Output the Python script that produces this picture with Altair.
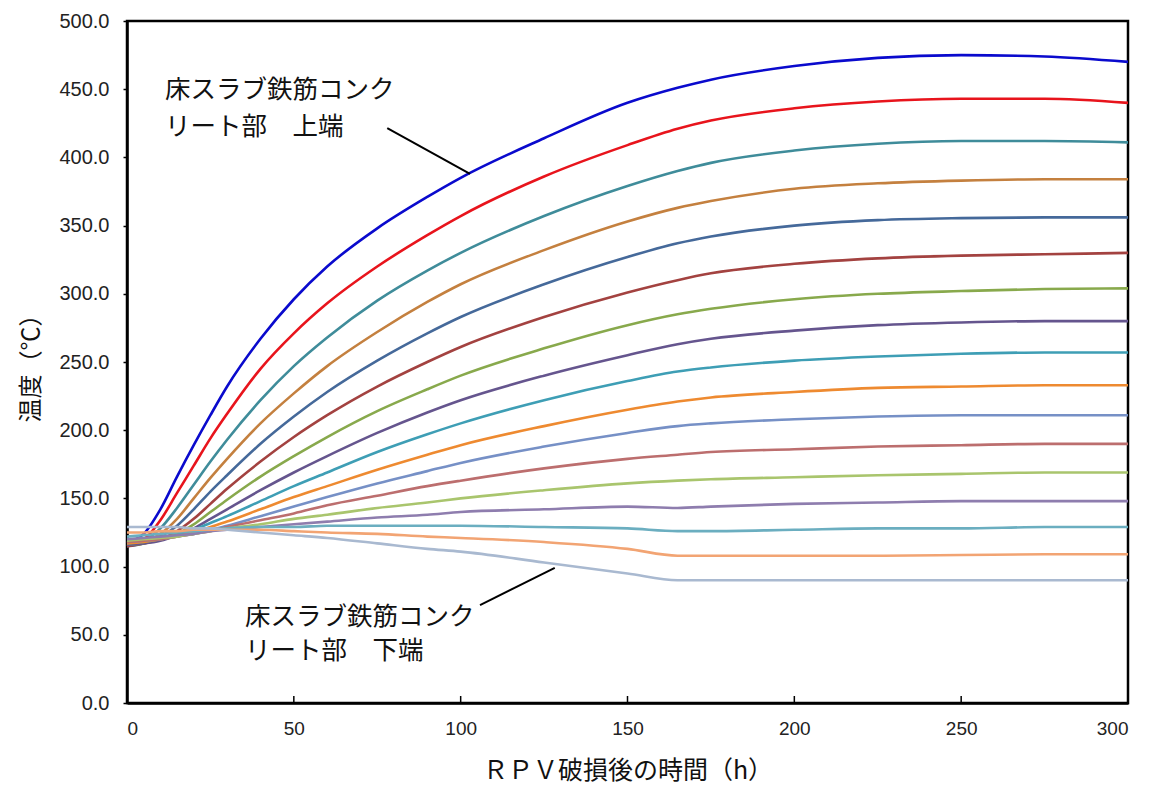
import altair as alt
import pandas as pd

# time axis (h)
T = [0, 5, 10, 15, 20, 25, 30, 40, 50, 60, 75, 90, 100, 125, 150, 165, 175, 200, 225, 250, 275, 300]

s01 = [118, 124, 142, 166, 189, 211, 232, 267, 296, 320, 348, 371, 385, 414, 440, 451, 457, 467, 473, 475, 474, 470]
s02 = [117, 120, 134, 154, 174, 194, 212, 245, 271, 293, 320, 343, 357, 386, 409, 421, 427, 436, 441, 443, 443, 440]
s03 = [116, 119, 128, 143, 160, 177, 193, 222, 247, 268, 295, 317, 330, 357, 379, 390, 396, 405, 410, 412, 412, 411]
s04 = [115, 118, 124, 135, 150, 165, 179, 205, 227, 247, 272, 294, 307, 332, 353, 363, 368, 377, 381, 383, 384, 384]
s05 = [115, 117, 122, 130, 142, 155, 167, 190, 210, 228, 251, 271, 283, 307, 327, 337, 342, 350, 354, 355.5, 356, 356]
s06 = [115, 117, 120, 126, 135, 146, 157, 177, 195, 211, 232, 250, 261, 283, 301, 310, 315, 322, 326, 328, 329, 330]
s07 = [116, 117, 120, 124, 131, 140, 149, 166, 181, 195, 214, 230, 240, 260, 277, 285, 289, 296, 300, 302, 303.5, 304]
s08 = [116, 117, 119, 123, 128, 135, 142, 156, 169, 181, 198, 213, 222, 240, 255, 263, 267, 273, 277, 279, 280, 280]
s09 = [117, 118, 120, 123, 127, 132, 137, 148, 159, 169, 184, 197, 205, 222, 236, 243, 246, 251, 254, 256, 257, 257]
s10 = [117, 118, 120, 122, 125, 129, 133, 142, 151, 159, 171, 182, 189, 203, 215, 221, 224, 228, 231, 232, 233, 233]
s11 = [118, 119, 120, 122, 124, 127, 130, 137, 144, 151, 161, 170, 176, 188, 198, 203, 205, 208, 210, 211, 211, 211]
s12 = [118, 119, 120, 122, 124, 126, 129, 134, 139, 145, 152, 159, 163, 172, 179, 182, 184, 186, 188, 189, 190, 190]
s13 = [119, 120, 121, 122, 124, 126, 128, 131, 135, 138, 143, 147, 150, 156, 161, 163, 164, 165.5, 167, 168, 169, 169]
s14 = [120, 121, 122, 123, 124, 126, 127, 129, 131, 133, 136, 138, 140, 142, 144, 143, 144, 146, 147, 148, 148, 148]
s15 = [122, 123, 124, 125, 126, 127, 128, 129, 129, 130, 130, 130, 130, 129, 128, 126, 126, 127, 128, 128, 129, 129]
s16 = [125, 125, 126, 126, 127, 127, 127, 127, 126, 125, 124, 122, 121, 118, 113, 108, 108, 108, 108, 108.5, 109, 109]
s17 = [129, 129, 129, 129, 128, 128, 127, 125, 123, 121, 117, 113, 111, 103, 95, 90, 90, 90, 90, 90, 90, 90]

series_values = [s01, s02, s03, s04, s05, s06, s07, s08, s09, s10, s11, s12, s13, s14, s15, s16, s17]
series_names = ["%02d" % (i + 1) for i in range(len(series_values))]
series_colors = ["#0A0ACD", "#E8141C", "#3F8C9A", "#C4803F", "#45699A", "#A34240",
                 "#88A94C", "#65558E", "#3E9EB5", "#EE8A30", "#7690C6", "#BC6E6E",
                 "#A9C56D", "#8E7DAE", "#6BAEC0", "#F2A473", "#A9B9D0"]

x_ticks = [0, 50, 100, 150, 200, 250, 300]
y_ticks = [0, 50, 100, 150, 200, 250, 300, 350, 400, 450, 500]

# annotations (data coordinates)
ann_text = ["床スラブ鉄筋コンク", "リート部　上端", "床スラブ鉄筋コンク", "リート部　下端"]
ann_x = [11.4, 11.4, 35.4, 35.4]
ann_y = [449.5, 422.3, 63.0, 38.0]
lead_x = [78.0, 105.8]
lead_y = [421.5, 71.8]
lead_x2 = [102.8, 128.2]
lead_y2 = [388.0, 99.0]

rows = []
for name, vals in zip(series_names, series_values):
    for t, v in zip(T, vals):
        rows.append({"t": t, "v": v, "s": name})
df = pd.DataFrame(rows)

W, H = 1001, 682
FONT = "Liberation Sans"
JP = "Noto Sans CJK JP"

xscale = alt.Scale(domain=[0, 300], nice=False, zero=False)
yscale = alt.Scale(domain=[0, 500], nice=False)

lines = alt.Chart(df).mark_line(strokeWidth=2.6, interpolate="monotone").encode(
    x=alt.X("t:Q", scale=xscale,
            axis=alt.Axis(values=x_ticks, format="d", title="ＲＰＶ破損後の時間（h）",
                          ticks=False, labelPadding=16, titlePadding=20,
                          titleFontSize=25, grid=False)),
    y=alt.Y("v:Q", scale=yscale,
            axis=alt.Axis(values=y_ticks, format=".1f", title="温度（℃）",
                          tickSize=4, labelPadding=14, titlePadding=15,
                          labelFontSize=20, titleFontSize=24, grid=False)),
    color=alt.Color("s:N", scale=alt.Scale(domain=series_names, range=series_colors), legend=None),
    order=alt.Order("t:Q"),
)

tick_df = pd.DataFrame({"x": x_ticks[1:-1]})
xticks = alt.Chart(tick_df).mark_rule(color="black", strokeWidth=1.5).encode(
    x=alt.X("x:Q", scale=xscale),
    y=alt.value(H),
    y2=alt.value(H - 7),
)

lead_df = pd.DataFrame({"x": lead_x, "y": lead_y, "x2": lead_x2, "y2": lead_y2})
leaders = alt.Chart(lead_df).mark_rule(color="black", strokeWidth=2).encode(
    x=alt.X("x:Q", scale=xscale), y=alt.Y("y:Q", scale=yscale),
    x2="x2:Q", y2="y2:Q",
)

ann_df = pd.DataFrame({"x": ann_x, "y": ann_y, "text": ann_text})
texts = alt.Chart(ann_df).mark_text(align="left", baseline="middle", font=JP,
                                    fontSize=25.5, color="#111").encode(
    x=alt.X("x:Q", scale=xscale), y=alt.Y("y:Q", scale=yscale), text="text:N",
)

chart = alt.layer(lines, xticks, leaders, texts).properties(
    width=W, height=H,
    autosize=alt.AutoSizeParams(type="none"),
    padding={"left": 119, "top": 13, "right": 22, "bottom": 88},
).configure_view(
    stroke="black", strokeWidth=2.5
).configure_axis(
    domainColor="black", domainWidth=2.5, tickColor="black", tickWidth=1.5,
    labelFont=FONT, labelFontSize=19, labelColor="#222",
    titleFont=JP, titleFontWeight="normal", titleColor="#111",
)

chart.save("out.html", embed_options={"renderer": "svg", "actions": False})
